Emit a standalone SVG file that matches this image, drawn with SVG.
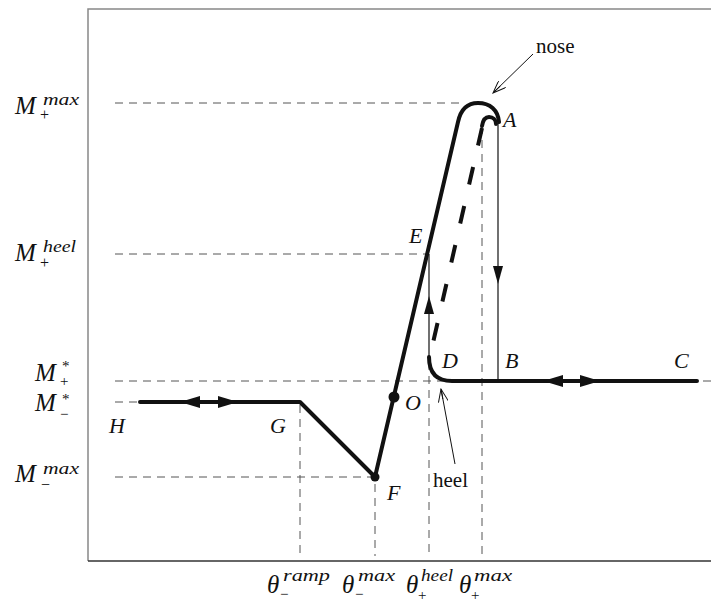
<svg xmlns="http://www.w3.org/2000/svg" width="711" height="603" viewBox="0 0 711 603">
<defs>
<style>
.frame{fill:none;stroke:#888;stroke-width:1.5}
.dash{fill:none;stroke:#555;stroke-width:1;stroke-dasharray:8 6}
.thick{fill:none;stroke:#111;stroke-width:4;stroke-linecap:round;stroke-linejoin:round}
.thickdash{fill:none;stroke:#111;stroke-width:4;stroke-dasharray:18 22}
.thin{fill:none;stroke:#111;stroke-width:1.2}
.ptr{fill:none;stroke:#111;stroke-width:1}
.lbl{font-family:"Liberation Serif","Times New Roman",serif;font-style:italic;font-size:22px;fill:#111}
.big{font-family:"Liberation Serif","Times New Roman",serif;font-style:italic;font-size:25px;fill:#111}
.sup{font-family:"Liberation Serif","Times New Roman",serif;font-style:italic;font-size:16px;fill:#111}
.sub{font-family:"Liberation Serif","Times New Roman",serif;font-size:16px;fill:#111}
.st{font-family:"Liberation Serif","Times New Roman",serif;font-size:15px;fill:#111}
.txt{font-family:"Liberation Serif","Times New Roman",serif;font-size:21px;fill:#111}
.ah{fill:#111}
</style>
<marker id="open" viewBox="0 0 14 10" refX="13" refY="5" markerWidth="14" markerHeight="10" markerUnits="userSpaceOnUse" orient="auto">
<path d="M0,0 L13,5 L0,10 M3,5 L13,5" fill="none" stroke="#111" stroke-width="1"/>
</marker>
</defs>
<g id="frame">
<path class="frame" d="M88,561 L88,9 L711,9"/>
<path d="M88,561 L711,561" stroke="#333" stroke-width="1.5" fill="none"/>
</g>
<g id="guides">
<path class="dash" d="M115,103 L462,103"/>
<path class="dash" d="M115,254 L428,254"/>
<path class="dash" d="M115,381 L711,381"/>
<path class="dash" d="M115,402 L140,402"/>
<path class="dash" d="M115,477 L373,477"/>
<path class="dash" d="M300,405 L300,556"/>
<path class="dash" d="M375,484 L375,556"/>
<path class="dash" d="M429,362 L429,556"/>
<path class="dash" d="M482,126 L482,556"/>
</g>
<g id="connectors">
<path class="thick" d="M140,402 L300,402 L375,477 L458,122 C461,108 468,103 478,103 C490,103 498,110 499,122"/>
<path class="thick" d="M482,126 C483,120 486,117 489,117 C493,117 496,120 496,124"/>
<path class="thickdash" d="M482,128 L430,356"/>
<path class="thick" d="M429,357 C429,373 437,381 452,381 L697,381"/>
<path class="thin" d="M498,123 L498,381"/>
<path class="thin" d="M429,356 L429,254"/>
<polygon class="ah" points="180,402 200,396 200,408"/>
<polygon class="ah" points="238,402 218,396 218,408"/>
<polygon class="ah" points="543,381 563,375 563,387"/>
<polygon class="ah" points="600,381 580,375 580,387"/>
<polygon class="ah" points="498,284 493,266 503,266"/>
<polygon class="ah" points="429,296 424,314 434,314"/>
<circle class="ah" cx="394" cy="397" r="5.5"/>
<circle class="ah" cx="375" cy="477" r="4.5"/>
<path class="ptr" d="M533,54 L493,93" marker-end="url(#open)"/>
<path class="ptr" d="M455,464 L441,389" marker-end="url(#open)"/>
</g>
<g id="point-labels">
<text class="lbl" x="503" y="127">A</text>
<text class="lbl" x="505" y="368">B</text>
<text class="lbl" x="674" y="368">C</text>
<text class="lbl" x="442" y="368">D</text>
<text class="lbl" x="409" y="243">E</text>
<text class="lbl" x="387" y="500">F</text>
<text class="lbl" x="270" y="433">G</text>
<text class="lbl" x="109" y="433">H</text>
<text class="lbl" x="405" y="410">O</text>
<text class="txt" x="536" y="53">nose</text>
<text class="txt" x="433" y="487">heel</text>
</g>
<g id="axis-labels">
<text class="big" x="15" y="114">M</text><text class="sup" x="43" y="105" textLength="36" lengthAdjust="spacingAndGlyphs">max</text><text class="sub" x="40" y="120">+</text>
<text class="big" x="15" y="261">M</text><text class="sup" x="43" y="252" textLength="33" lengthAdjust="spacingAndGlyphs">heel</text><text class="sub" x="40" y="268">+</text>
<text class="big" x="35" y="381">M</text><text class="st" x="62" y="371">*</text><text class="st" x="60" y="386">+</text>
<text class="big" x="35" y="411">M</text><text class="st" x="62" y="404">*</text><text class="st" x="60" y="419">−</text>
<text class="big" x="15" y="482">M</text><text class="sup" x="43" y="474" textLength="36" lengthAdjust="spacingAndGlyphs">max</text><text class="sub" x="41" y="490">−</text>
<text class="big" x="267" y="593">θ</text><text class="sup" x="283" y="581" textLength="47" lengthAdjust="spacingAndGlyphs">ramp</text><text class="st" x="280" y="599">−</text>
<text class="big" x="342" y="593">θ</text><text class="sup" x="358" y="581" textLength="37" lengthAdjust="spacingAndGlyphs">max</text><text class="st" x="355" y="599">−</text>
<text class="big" x="406" y="593">θ</text><text class="sup" x="421" y="581" textLength="32" lengthAdjust="spacingAndGlyphs">heel</text><text class="st" x="418" y="600">+</text>
<text class="big" x="459" y="593">θ</text><text class="sup" x="474" y="581" textLength="38" lengthAdjust="spacingAndGlyphs">max</text><text class="st" x="471" y="600">+</text>
</g>
</svg>
